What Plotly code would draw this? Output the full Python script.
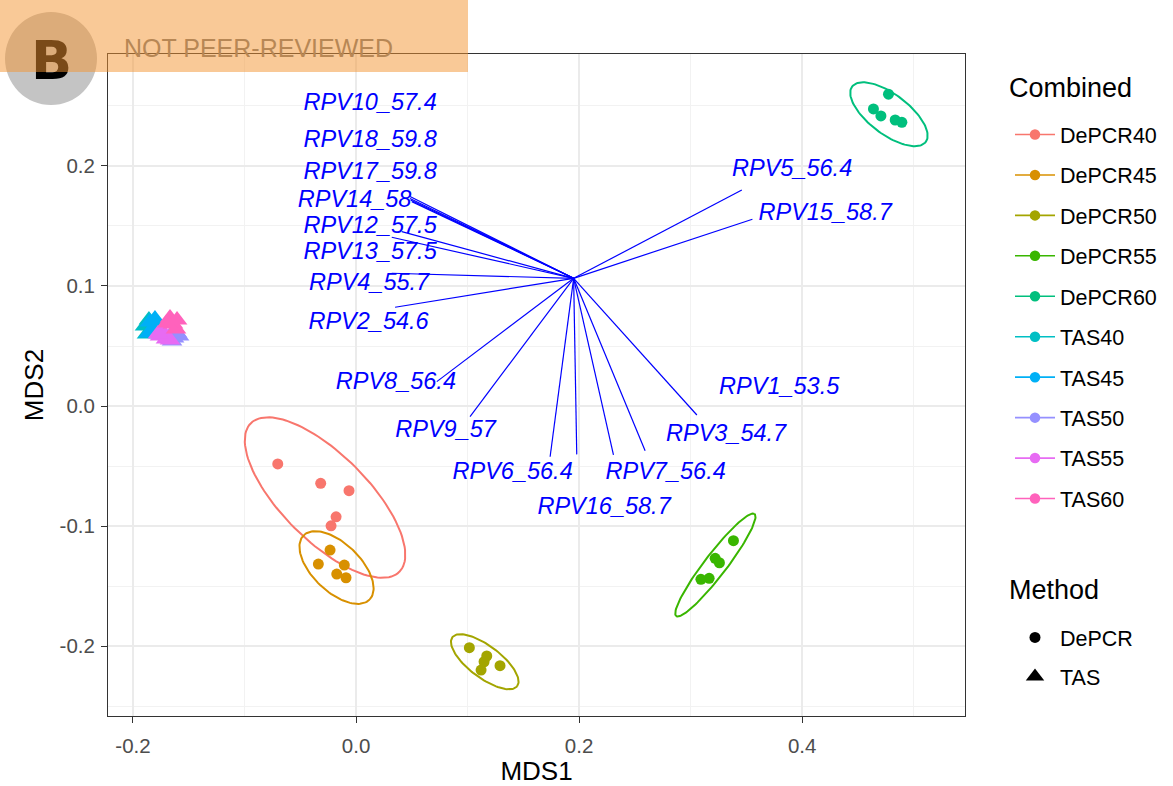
import plotly.graph_objects as go
import numpy as np

# ---------------- data ----------------
groups = ["DePCR40", "DePCR45", "DePCR50", "DePCR55", "DePCR60",
          "TAS40", "TAS45", "TAS50", "TAS55", "TAS60"]
colors = ["#F8766D", "#D89000", "#A3A500", "#39B600", "#00BF7D",
          "#00BFC4", "#00B0F6", "#9590FF", "#E76BF3", "#FF62BC"]
methods = ["DePCR", "DePCR", "DePCR", "DePCR", "DePCR",
           "TAS", "TAS", "TAS", "TAS", "TAS"]

depcr40_x = [-0.0702, -0.0317, -0.0063, -0.0179, -0.0224]
depcr40_y = [-0.0483, -0.0644, -0.0706, -0.0923, -0.0998]
depcr45_x = [-0.0233, -0.0338, -0.0105, -0.0173, -0.0090]
depcr45_y = [-0.1200, -0.1317, -0.1325, -0.1400, -0.1431]
depcr50_x = [0.1016, 0.1172, 0.1148, 0.1121, 0.1291]
depcr50_y = [-0.2014, -0.2083, -0.2131, -0.2200, -0.2164]
depcr55_x = [0.3384, 0.3220, 0.3258, 0.3166, 0.3092]
depcr55_y = [-0.1122, -0.1269, -0.1306, -0.1436, -0.1444]
depcr60_x = [0.4774, 0.4639, 0.4706, 0.4834, 0.4894]
depcr60_y = [0.2598, 0.2475, 0.2417, 0.2383, 0.2364]
tas40_x = [-0.1892, -0.1857, -0.1839, -0.1874, -0.1812]
tas40_y = [0.0667, 0.0717, 0.0625, 0.0600, 0.0675]
tas45_x = [-0.1848, -0.1803, -0.1830, -0.1785, -0.1857]
tas45_y = [0.0700, 0.0725, 0.0633, 0.0667, 0.0608]
tas50_x = [-0.1668, -0.1632, -0.1605, -0.1650, -0.1587]
tas50_y = [0.0583, 0.0567, 0.0608, 0.0542, 0.0583]
tas55_x = [-0.1758, -0.1704, -0.1731, -0.1668, -0.1776]
tas55_y = [0.0583, 0.0558, 0.0617, 0.0550, 0.0600]
tas60_x = [-0.1668, -0.1641, -0.1614, -0.1695, -0.1605]
tas60_y = [0.0733, 0.0683, 0.0642, 0.0692, 0.0717]

group_x = [depcr40_x, depcr45_x, depcr50_x, depcr55_x, depcr60_x,
           tas40_x, tas45_x, tas50_x, tas55_x, tas60_x]
group_y = [depcr40_y, depcr45_y, depcr50_y, depcr55_y, depcr60_y,
           tas40_y, tas45_y, tas50_y, tas55_y, tas60_y]

# 95% ellipses: centre, semi-axes (MDS1 units), angle (deg)
ellipse_cx = [-0.0278, -0.0175, 0.1154, 0.3222, 0.4778,
              -0.1853, -0.1825, -0.1628, -0.1727, -0.1645]
ellipse_cy = [-0.0763, -0.1346, -0.2131, -0.1325, 0.2431,
              0.0657, 0.0667, 0.0577, 0.0582, 0.0693]
ellipse_a = [0.0942, 0.0413, 0.0364, 0.0577, 0.0413,
             0.0060, 0.0060, 0.0050, 0.0055, 0.0055]
ellipse_b = [0.0386, 0.0215, 0.0143, 0.0099, 0.0179,
             0.0022, 0.0022, 0.0020, 0.0020, 0.0020]
ellipse_angle = [-45, -44, -37, 52.5, -37, 60, 60, 40, 40, 50]

# fitted vectors (envfit-style)
vec_origin_x = 0.1951
vec_origin_y = 0.1064
rpv_labels = ["RPV1_53.5", "RPV2_54.6", "RPV3_54.7", "RPV4_55.7", "RPV5_56.4",
              "RPV6_56.4", "RPV7_56.4", "RPV8_56.4", "RPV9_57", "RPV10_57.4",
              "RPV12_57.5", "RPV13_57.5", "RPV14_58", "RPV15_58.7", "RPV16_58.7",
              "RPV17_59.8", "RPV18_59.8"]
rpv_end_x = [0.3056, 0.0350, 0.2592, 0.0320, 0.3459,
             0.1740, 0.2308, 0.0724, 0.1022, 0.0484,
             0.0410, 0.0320, 0.0500, 0.3554, 0.1979,
             0.0489, 0.0484]
rpv_end_y = [-0.0075, 0.0823, -0.0373, 0.1106, 0.1800,
             -0.0423, -0.0408, 0.0203, -0.0089, 0.1746,
             0.1453, 0.1406, 0.1703, 0.1556, -0.0403,
             0.1717, 0.1729]
rpv_label_x = [0.3794, 0.0112, 0.3318, 0.0117, 0.3910,
               0.1404, 0.2776, 0.0357, 0.0803, 0.0126,
               0.0126, 0.0126, -0.0013, 0.4206, 0.2224,
               0.0126, 0.0126]
rpv_label_y = [0.0150, 0.0689, -0.0242, 0.1017, 0.1967,
               -0.0561, -0.0561, 0.0189, -0.0206, 0.2517,
               0.1492, 0.1275, 0.1704, 0.1600, -0.0853,
               0.1942, 0.2204]

x_ticks = [-0.2, 0.0, 0.2, 0.4]
x_ticktext = ["-0.2", "0.0", "0.2", "0.4"]
y_ticks = [-0.2, -0.1, 0.0, 0.1, 0.2]
y_ticktext = ["-0.2", "-0.1", "0.0", "0.1", "0.2"]

# ---------------- figure ----------------
W, H = 1173, 786
ML, MR, MT, MB = 108, 208, 54, 70
PW, PH = W - ML - MR, H - MT - MB
XR = [-0.2224, 0.546]
YR = [-0.2583, 0.2933]
aspect = (PW / (XR[1] - XR[0])) / (PH / (YR[1] - YR[0]))  # x px/unit over y px/unit


def px_x(p):
    return (p - ML) / PW


def px_y(p):
    return (H - MB - p) / PH


FONT = "Liberation Sans, Arial, sans-serif"
fig = go.Figure()

t = np.linspace(0, 2 * np.pi, 121)
for i, g in enumerate(groups):
    th = np.deg2rad(ellipse_angle[i])
    ex = ellipse_cx[i] + ellipse_a[i] * np.cos(t) * np.cos(th) - ellipse_b[i] * np.sin(t) * np.sin(th)
    ey = ellipse_cy[i] + (ellipse_a[i] * np.cos(t) * np.sin(th) + ellipse_b[i] * np.sin(t) * np.cos(th)) * aspect
    fig.add_trace(go.Scatter(x=ex, y=ey, mode="lines", line=dict(color=colors[i], width=2),
                             showlegend=False, hoverinfo="skip"))

for i, g in enumerate(groups):
    sym = "circle" if methods[i] == "DePCR" else "triangle-up"
    size = 11 if methods[i] == "DePCR" else 18
    fig.add_trace(go.Scatter(x=group_x[i], y=group_y[i], mode="markers",
                             marker=dict(color=colors[i], symbol=sym, size=size, line=dict(width=0)),
                             showlegend=False, name=g))

# vectors
seg_x, seg_y = [], []
for ex_, ey_ in zip(rpv_end_x, rpv_end_y):
    seg_x += [vec_origin_x, ex_, None]
    seg_y += [vec_origin_y, ey_, None]
fig.add_trace(go.Scatter(x=seg_x, y=seg_y, mode="lines", line=dict(color="#0000FF", width=1.2),
                         showlegend=False, hoverinfo="skip"))
fig.add_trace(go.Scatter(x=rpv_label_x, y=rpv_label_y, mode="text",
                         text=["<i>%s</i>" % s for s in rpv_labels],
                         textfont=dict(family=FONT, size=23.5, color="#0000FF"),
                         textposition="middle center", showlegend=False, hoverinfo="skip"))

# legend: Combined
for i, g in enumerate(groups):
    fig.add_trace(go.Scatter(x=[None], y=[None], mode="lines+markers", name=g,
                             line=dict(color=colors[i], width=1.6),
                             marker=dict(color=colors[i], size=10.5, symbol="circle"),
                             legend="legend", legendgroup=g))
# legend: Method
for m, sym, sz in [("DePCR", "circle", 11), ("TAS", "triangle-up", 16)]:
    fig.add_trace(go.Scatter(x=[None], y=[None], mode="markers", name=m,
                             marker=dict(color="black", symbol=sym, size=sz),
                             legend="legend2", legendgroup="m" + m))

axis_common = dict(showline=True, linecolor="#333333", linewidth=1, mirror=True,
                   ticks="outside", ticklen=6, tickwidth=1.2, tickcolor="#333333",
                   showgrid=True, gridcolor="#EBEBEB", gridwidth=1.6, zeroline=False,
                   automargin=False,
                   tickfont=dict(family=FONT, size=20.5, color="#4D4D4D"))

fig.update_layout(
    width=W, height=H,
    margin=dict(l=ML, r=MR, t=MT, b=MB, autoexpand=False),
    paper_bgcolor="white", plot_bgcolor="white",
    font=dict(family=FONT, color="black"),
    xaxis=dict(range=XR, tickvals=x_ticks, ticktext=x_ticktext, ticklabelstandoff=5,
               minor=dict(tickvals=[-0.1, 0.1, 0.3, 0.5], showgrid=True, gridcolor="#F2F2F2", gridwidth=0.8),
               title=dict(text="MDS1", font=dict(family=FONT, size=26), standoff=3),
               **axis_common),
    yaxis=dict(range=YR, tickvals=y_ticks, ticktext=y_ticktext, ticklabelstandoff=2,
               minor=dict(tickvals=[-0.25, -0.15, -0.05, 0.05, 0.15, 0.25], showgrid=True,
                          gridcolor="#F2F2F2", gridwidth=0.8),
               title=dict(text="MDS2", font=dict(family=FONT, size=26), standoff=8),
               **axis_common),
    legend=dict(font=dict(family=FONT, size=21.5), x=px_x(1010), y=px_y(114),
                xanchor="left", yanchor="top", tracegroupgap=9.5, bgcolor="rgba(0,0,0,0)",
                itemwidth=40),
    legend2=dict(font=dict(family=FONT, size=21.5), x=px_x(1010), y=px_y(617),
                 xanchor="left", yanchor="top", tracegroupgap=8, bgcolor="rgba(0,0,0,0)",
                 itemwidth=40),
)

# legend titles
fig.add_annotation(xref="paper", yref="paper", x=px_x(1007), y=px_y(88), text="Combined",
                   showarrow=False, font=dict(family=FONT, size=27, color="black"),
                   xanchor="left", yanchor="middle")
fig.add_annotation(xref="paper", yref="paper", x=px_x(1007), y=px_y(590), text="Method",
                   showarrow=False, font=dict(family=FONT, size=27, color="black"),
                   xanchor="left", yanchor="middle")

# badge
fig.add_shape(type="circle", xref="paper", yref="paper",
              x0=px_x(5), x1=px_x(97), y0=px_y(105), y1=px_y(12),
              fillcolor="#C4C4C4", line=dict(width=0), layer="above")
fig.add_annotation(xref="paper", yref="paper", x=px_x(51), y=px_y(61), text="<b>B</b>",
                   showarrow=False, font=dict(family="DejaVu Sans, sans-serif", size=54, color="black"),
                   xanchor="center", yanchor="middle")
fig.add_annotation(xref="paper", yref="paper", x=px_x(122), y=px_y(48), text="NOT PEER-REVIEWED",
                   showarrow=False, font=dict(family=FONT, size=25, color="#7A7A7A"),
                   xanchor="left", yanchor="middle")
fig.add_annotation(xref="paper", yref="paper", x=px_x(0), y=px_y(0), text=" ",
                   showarrow=False, width=468, height=72, bgcolor="rgba(244,148,48,0.5)",
                   borderpad=0, borderwidth=0, xanchor="left", yanchor="top")

fig.write_html("out.html", config={"displayModeBar": False},
               post_script="document.body.style.margin='0';")
